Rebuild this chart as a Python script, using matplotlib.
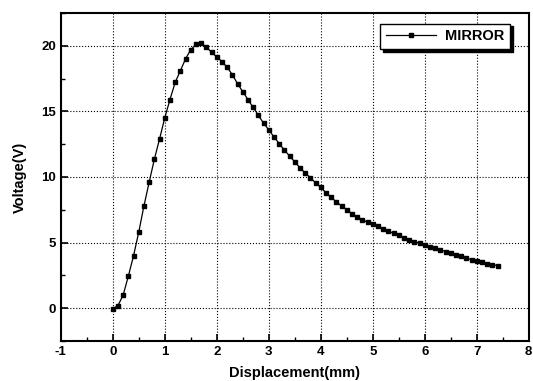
import matplotlib
matplotlib.use("Agg")
import matplotlib.pyplot as plt
from matplotlib.ticker import MultipleLocator

# ── data ──────────────────────────────────────────────────────────────────────
displacement = [
    0.0, 0.1, 0.2, 0.3, 0.4, 0.5, 0.6, 0.7, 0.8, 0.9,
    1.0, 1.1, 1.2, 1.3, 1.4, 1.5, 1.6, 1.7, 1.8, 1.9,
    2.0, 2.1, 2.2, 2.3, 2.4, 2.5, 2.6, 2.7, 2.8, 2.9,
    3.0, 3.1, 3.2, 3.3, 3.4, 3.5, 3.6, 3.7, 3.8, 3.9,
    4.0, 4.1, 4.2, 4.3, 4.4, 4.5, 4.6, 4.7, 4.8, 4.9,
    5.0, 5.1, 5.2, 5.3, 5.4, 5.5, 5.6, 5.7, 5.8, 5.9,
    6.0, 6.1, 6.2, 6.3, 6.4, 6.5, 6.6, 6.7, 6.8, 6.9,
    7.0, 7.1, 7.2, 7.3, 7.4,
]
voltage = [
    -0.05, 0.2, 1.0, 2.45, 4.0, 5.8, 7.8, 9.6, 11.35, 12.9,
    14.5, 15.9, 17.2, 18.1, 19.0, 19.7, 20.1, 20.2, 19.9, 19.5,
    19.15, 18.8, 18.35, 17.8, 17.1, 16.5, 15.9, 15.3, 14.7, 14.1,
    13.6, 13.05, 12.55, 12.05, 11.6, 11.15, 10.7, 10.3, 9.95, 9.55,
    9.2, 8.8, 8.45, 8.1, 7.8, 7.5, 7.2, 6.95, 6.75, 6.55,
    6.4, 6.25, 6.05, 5.88, 5.7, 5.55, 5.38, 5.22, 5.06, 4.95,
    4.84, 4.7, 4.57, 4.45, 4.32, 4.2, 4.06, 3.94, 3.82, 3.7,
    3.6, 3.5, 3.4, 3.32, 3.25,
]
series_label = "MIRROR"

plt.rcParams["font.family"] = ["Liberation Sans", "DejaVu Sans"]
plt.rcParams["font.weight"] = "bold"
plt.rcParams["axes.unicode_minus"] = False

fig = plt.figure(figsize=(5.33, 3.81), dpi=100)
ax = fig.add_axes([0.114, 0.105, 0.878, 0.861])

ax.plot(displacement, voltage, color="black", linewidth=0.9,
        marker="s", markersize=3.0, label=series_label)

ax.set_xlim(-1, 8)
ax.set_ylim(-2.5, 22.5)
ax.xaxis.set_major_locator(MultipleLocator(1))
ax.xaxis.set_minor_locator(MultipleLocator(0.5))
ax.yaxis.set_major_locator(MultipleLocator(5))
ax.yaxis.set_minor_locator(MultipleLocator(2.5))
ax.tick_params(which="both", direction="in", labelsize=9.5)
ax.tick_params(which="major", length=5, width=1.2)
ax.tick_params(which="minor", length=3, width=1.0)

ax.grid(True, which="major", linestyle=":", color="black", linewidth=0.8)

for s in ax.spines.values():
    s.set_linewidth(1.5)

ax.set_xlabel("Displacement(mm)", fontsize=10.5, fontweight="bold", labelpad=6)
ax.set_ylabel("Voltage(V)", fontsize=10.5, fontweight="bold", labelpad=10)

leg = ax.legend(loc="upper right", bbox_to_anchor=(0.975, 0.99),
                fancybox=False, edgecolor="black", framealpha=1,
                shadow={"color": "black", "alpha": 1},
                handlelength=3.4, borderpad=0.4, handletextpad=0.6,
                prop={"weight": "bold", "size": 10.5})
leg.get_frame().set_linewidth(1.0)

fig.savefig("out.png", dpi=100)
